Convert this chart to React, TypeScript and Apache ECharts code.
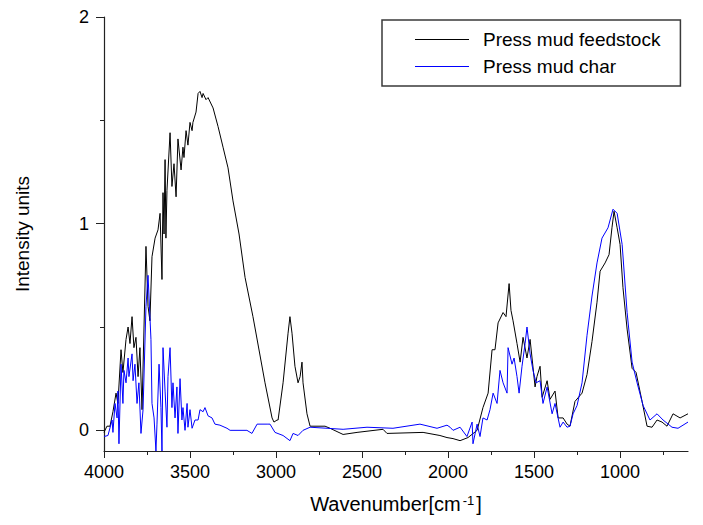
import React, { useEffect, useRef } from "react";
import * as echarts from "echarts";

// Press mud feedstock (black)
const feedstockWn = [
  4000, 3983, 3965, 3948, 3930, 3919, 3901, 3890, 3872, 3860, 3849, 3837, 3826, 3814, 3802, 3791, 3779,
  3756, 3744, 3733, 3721, 3703, 3686, 3674, 3663, 3657, 3651, 3645, 3640, 3634, 3616, 3605, 3593, 3581,
  3570, 3552, 3541, 3535, 3523, 3512, 3500, 3488, 3483, 3465, 3453, 3442, 3430, 3424, 3407, 3395, 3366,
  3337, 3308, 3279, 3250, 3215, 3180, 3134, 3064, 3023, 3012, 2994, 2988, 2959, 2930, 2919, 2907, 2890,
  2872, 2860, 2849, 2843, 2820, 2802, 2715, 2686, 2610, 2529, 2378, 2355, 2145, 2047, 2006, 1971, 1930,
  1884, 1831, 1797, 1767, 1744, 1727, 1709, 1680, 1663, 1645, 1634, 1622, 1599, 1581, 1564, 1541, 1523,
  1494, 1483, 1465, 1453, 1424, 1407, 1378, 1360, 1331, 1308, 1291, 1262, 1221, 1192, 1163, 1134, 1116,
  1087, 1064, 1047, 1035, 1017, 1000, 983, 959, 930, 907, 872, 843, 814, 785, 756, 727, 692, 651, 605,
];
const feedstockIntensity = [
  -0.01, 0.02, 0.02, 0.09, 0.18, 0.13, 0.39, 0.28, 0.44, 0.5, 0.42, 0.55, 0.4, 0.45, 0.26, 0.4, 0.1,
  0.89, 0.6, 0.53, 0.84, 0.93, 0.97, 1.05, 0.73, 1.15, 0.95, 1.31, 0.93, 1.16, 1.44, 1.18, 1.29, 1.13,
  1.41, 1.26, 1.37, 1.32, 1.45, 1.38, 1.49, 1.45, 1.49, 1.54, 1.63, 1.64, 1.61, 1.63, 1.6, 1.61, 1.56,
  1.47, 1.37, 1.27, 1.11, 0.95, 0.74, 0.55, 0.23, 0.06, 0.04, 0.05, 0.05, 0.23, 0.47, 0.55, 0.47, 0.31,
  0.23, 0.26, 0.33, 0.23, 0.08, 0.02, 0.02, 0.01, -0.02, -0.01, 0.005, -0.015, -0.01, -0.025, -0.035, -0.04, -0.05,
  -0.035, 0.0, 0.11, 0.18, 0.39, 0.39, 0.52, 0.57, 0.55, 0.71, 0.58, 0.53, 0.42, 0.33, 0.45, 0.35, 0.44,
  0.21, 0.26, 0.31, 0.16, 0.24, 0.15, 0.19, 0.06, 0.06, 0.03, 0.02, 0.14, 0.18, 0.27, 0.43, 0.62, 0.77,
  0.81, 0.85, 0.98, 1.06, 0.98, 0.9, 0.69, 0.49, 0.3, 0.28, 0.14, 0.02, 0.015, 0.05, 0.04, 0.02, 0.08, 0.06, 0.08,
];

// Press mud char (blue)
const charWn = [
  4000, 3977, 3953, 3948, 3936, 3924, 3919, 3913, 3901, 3890, 3884, 3872, 3860, 3855, 3837, 3831, 3820,
  3808, 3797, 3785, 3773, 3756, 3744, 3738, 3727, 3721, 3709, 3698, 3692, 3680, 3669, 3663, 3657, 3645,
  3634, 3628, 3616, 3605, 3599, 3587, 3576, 3570, 3558, 3547, 3541, 3529, 3517, 3512, 3500, 3488, 3471,
  3453, 3442, 3424, 3413, 3395, 3372, 3355, 3326, 3285, 3267, 3169, 3140, 3110, 3052, 3035, 3006, 2959,
  2919, 2901, 2872, 2843, 2802, 2703, 2610, 2471, 2320, 2163, 2064, 2006, 1988, 1971, 1930, 1890, 1860,
  1855, 1831, 1814, 1797, 1773, 1756, 1738, 1715, 1698, 1680, 1657, 1651, 1628, 1616, 1599, 1587, 1570,
  1552, 1541, 1523, 1506, 1488, 1465, 1448, 1424, 1395, 1378, 1349, 1331, 1308, 1291, 1273, 1250, 1221,
  1192, 1163, 1134, 1105, 1070, 1041, 1017, 988, 959, 930, 901, 866, 826, 785, 750, 698, 663, 605,
];
const charIntensity = [
  -0.03, -0.025, 0.05, -0.01, 0.13, 0.06, 0.19, -0.065, 0.32, 0.13, 0.29, 0.23, 0.35, 0.26, 0.37, 0.24, 0.32,
  0.13, 0.23, -0.015, 0.1, 0.6, 0.75, 0.64, 0.44, 0.13, 0.06, -0.1, 0.03, 0.32, 0.11, -0.1, 0.4, 0.19,
  0.015, 0.26, 0.4, 0.11, 0.23, 0.06, 0.21, -0.015, 0.25, 0.05, 0.11, 0.0, 0.13, 0.015, 0.1, 0.01, 0.05,
  0.05, 0.1, 0.09, 0.11, 0.07, 0.06, 0.03, 0.025, 0.01, 0.0, 0.0, -0.015, 0.03, 0.03, 0.03, -0.01, -0.025,
  -0.05, -0.015, -0.025, 0.0, 0.015, 0.01, 0.005, 0.015, 0.01, 0.03, 0.01, 0.025, 0.015, 0.0, 0.015, -0.03, 0.04,
  -0.065, 0.03, -0.03, 0.06, 0.05, 0.1, 0.18, 0.13, 0.29, 0.23, 0.18, 0.4, 0.32, 0.35, 0.26, 0.18, 0.31,
  0.42, 0.5, 0.37, 0.29, 0.23, 0.24, 0.13, 0.21, 0.08, 0.13, 0.015, 0.04, 0.015, 0.02, 0.08, 0.12, 0.23,
  0.46, 0.65, 0.81, 0.93, 0.98, 1.07, 1.05, 0.9, 0.57, 0.33, 0.23, 0.12, 0.05, 0.08, 0.05, 0.015, 0.01, 0.04,
];

const xMajorTicks = [4000, 3500, 3000, 2500, 2000, 1500, 1000];
const xMinorTicks = [3750, 3250, 2750, 2250, 1750, 1250, 750];
const yMajorTicks = [0, 1, 2];
const yMinorTicks = [0.5, 1.5];

const FONT = "'Liberation Sans', Arial, sans-serif";
const AXIS_COLOR = "#222";

export default function App() {
  const ref = useRef<HTMLDivElement>(null);

  useEffect(() => {
    if (!ref.current) return;
    const chart = echarts.init(ref.current, undefined, { renderer: "svg" });
    const xBase = { type: "value", min: 605, max: 4000, inverse: true, gridIndex: 0 };
    const yBase = { type: "value", min: -0.1, max: 2, gridIndex: 0 };
    chart.setOption({
      animation: false,
      backgroundColor: "#ffffff",
      grid: { left: 104, right: 15, top: 17, bottom: 74, containLabel: false },
      legend: {
        orient: "vertical",
        left: 382,
        top: 20,
        padding: [10, 20, 10, 33],
        icon: "rect",
        itemWidth: 54,
        itemHeight: 1.2,
        itemGap: 8,
        borderColor: "#3a3a3a",
        borderWidth: 1.5,
        textStyle: {
          fontFamily: FONT,
          fontSize: 19,
          color: "#000",
          lineHeight: 19,
          padding: [0, 0, 0, 9],
        },
        data: ["Press mud feedstock", "Press mud char"],
      },
      xAxis: [
        {
          ...xBase,
          name: "Wavenumber[cm{sup|-1}]",
          nameLocation: "middle",
          nameGap: 43,
          nameTextStyle: {
            fontFamily: FONT,
            fontSize: 20,
            color: "#000",
            rich: {
              sup: { fontFamily: FONT, fontSize: 13, color: "#000", verticalAlign: "top", padding: [0, 2, 0, 2] },
            },
          },
          axisLine: { show: true, onZero: false, lineStyle: { color: AXIS_COLOR, width: 1.2 } },
          axisTick: { show: true, customValues: xMajorTicks, length: 7, lineStyle: { color: AXIS_COLOR } },
          axisLabel: {
            customValues: xMajorTicks,
            formatter: (v: number) => String(v),
            margin: 12,
            fontFamily: FONT,
            fontSize: 18,
            color: "#000",
          },
          splitLine: { show: false },
        },
        {
          ...xBase,
          position: "bottom",
          axisLine: { show: false, onZero: false },
          axisTick: { show: true, customValues: xMinorTicks, length: 4, lineStyle: { color: AXIS_COLOR } },
          axisLabel: { show: false },
          splitLine: { show: false },
        },
      ],
      yAxis: [
        {
          ...yBase,
          name: "Intensity units",
          nameLocation: "middle",
          nameGap: 72,
          nameTextStyle: { fontFamily: FONT, fontSize: 19, color: "#000" },
          axisLine: { show: true, onZero: false, lineStyle: { color: AXIS_COLOR, width: 1.2 } },
          axisTick: { show: true, customValues: yMajorTicks, length: 8, lineStyle: { color: AXIS_COLOR } },
          axisLabel: {
            customValues: yMajorTicks,
            formatter: (v: number) => String(v),
            margin: 15,
            fontFamily: FONT,
            fontSize: 18,
            color: "#000",
          },
          splitLine: { show: false },
        },
        {
          ...yBase,
          position: "left",
          axisLine: { show: false, onZero: false },
          axisTick: { show: true, customValues: yMinorTicks, length: 4, lineStyle: { color: AXIS_COLOR } },
          axisLabel: { show: false },
          splitLine: { show: false },
        },
      ],
      series: [
        {
          name: "Press mud feedstock",
          type: "line",
          xAxisIndex: 0,
          yAxisIndex: 0,
          data: feedstockWn.map((w, i) => [w, feedstockIntensity[i]]),
          showSymbol: false,
          symbol: "none",
          clip: true,
          color: "#000000",
          lineStyle: { color: "#000000", width: 1 },
        },
        {
          name: "Press mud char",
          type: "line",
          xAxisIndex: 0,
          yAxisIndex: 0,
          data: charWn.map((w, i) => [w, charIntensity[i]]),
          showSymbol: false,
          symbol: "none",
          clip: true,
          color: "#0000ff",
          lineStyle: { color: "#0000ff", width: 1 },
        },
      ],
    });
    return () => chart.dispose();
  }, []);

  return <div ref={ref} style={{ width: 703, height: 525, position: "absolute", left: 0, top: 0 }} />;
}
